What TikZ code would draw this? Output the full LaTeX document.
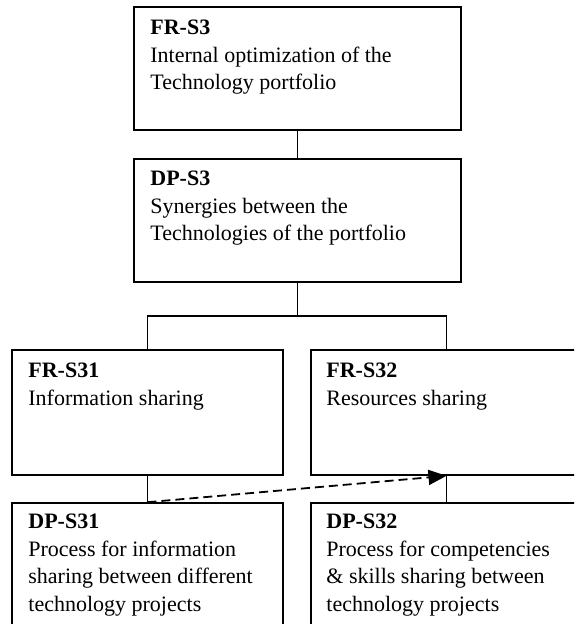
\documentclass[tikz,border=0pt]{standalone}
\usepackage{fontspec}
\setmainfont{Liberation Serif}
\usetikzlibrary{arrows.meta}
\begin{document}
\begin{tikzpicture}[x=1pt,y=-1pt,
  box/.style={draw, line width=1.6pt, inner sep=0pt, minimum width=#1},
  box/.default=327pt,
  txt/.style={anchor=north west, inner sep=0pt, align=left,
    font=\fontsize{22}{27.5}\selectfont},
  link/.style={line width=1.6pt},
  dep/.style={line width=1.8pt, dash pattern=on 9pt off 5pt,
    -{Triangle[length=18pt,width=15pt]}}]
  \clip (0,0) rectangle (574,624);

  % upper level
  \node[box, minimum height=123pt] (frs3) at (297.5,68.5) {};
  \node[txt] (frs3t) at ([shift={(17pt,-14pt)}]frs3.north west)
    {\textbf{FR-S3}\\Internal optimization of the\\Technology portfolio};
  \node[box, minimum height=123pt] (dps3) at (297.5,220.5) {};
  \node[txt] (dps3t) at ([shift={(17pt,-13pt)}]dps3.north west)
    {\textbf{DP-S3}\\Synergies between the\\Technologies of the portfolio};

  % second level
  \node[box=271pt, minimum height=125pt] (frs31) at (147.5,412.5) {};
  \node[txt] (frs31t) at ([shift={(17pt,-14pt)}]frs31.north west)
    {\textbf{FR-S31}\\Information sharing};
  \node[box=271pt, minimum height=125pt] (frs32) at (446.5,412.5) {};
  \node[txt] (frs32t) at ([shift={(16pt,-14pt)}]frs32.north west)
    {\textbf{FR-S32}\\Resources sharing};

  \node[box=271pt, minimum height=140pt] (dps31) at (147.5,573) {};
  \node[txt] (dps31t) at ([shift={(17pt,-12pt)}]dps31.north west)
    {\textbf{DP-S31}\\Process for information\\sharing between different\\technology projects};
  \node[box=271pt, minimum height=140pt] (dps32) at (446.5,573) {};
  \node[txt] (dps32t) at ([shift={(16pt,-12pt)}]dps32.north west)
    {\textbf{DP-S32}\\Process for competencies\\\&~skills sharing between\\technology projects};

  % connectors
  \coordinate (split) at (297.5,316);
  \draw[link] (frs3.south) -- (dps3.north);
  \draw[link] (dps3.south) -- (split);
  \draw[link] (split) -| (frs31.north);
  \draw[link] (split) -| (frs32.north);
  \draw[link] (frs31.south) -- (dps31.north);
  \draw[link] (frs32.south) -- (dps32.north);
  \draw[dep] (dps31.north) -- (frs32.south);
\end{tikzpicture}
\end{document}
